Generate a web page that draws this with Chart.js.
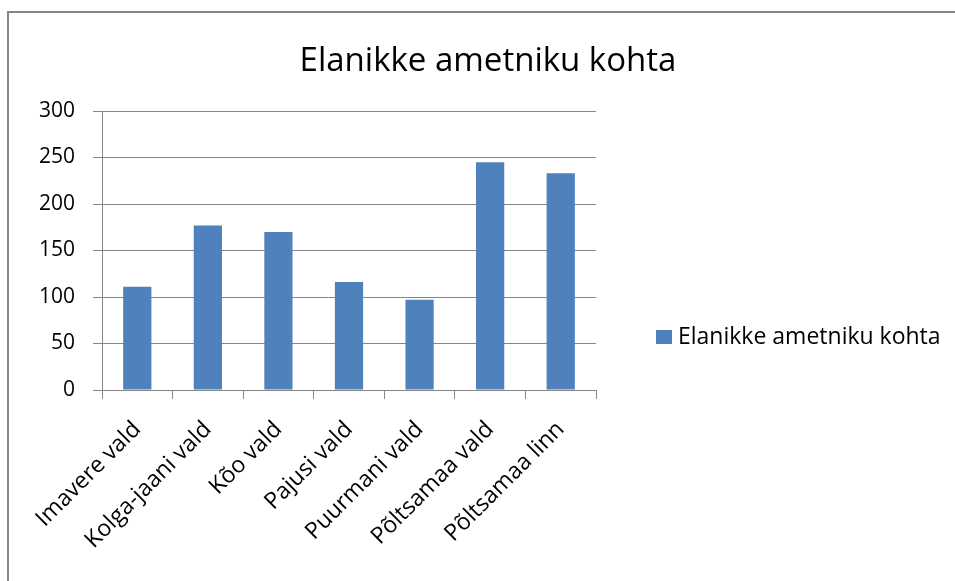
<!DOCTYPE html>
<html>
<head>
<meta charset="utf-8">
<script src="https://cdn.jsdelivr.net/npm/chart.js"></script>
<style>
  html, body { margin: 0; padding: 0; background: #fff; }
  #wrap { position: relative; width: 955px; height: 581px; overflow: hidden; }
  #frame { position: absolute; left: 7px; top: 11px; width: 1000px; height: 700px;
           border-left: 2px solid #868686; border-top: 2px solid #868686; }
  #myChart { position: absolute; left: 0; top: 0; }
  #title { position: absolute; left: 0; width: 976px; top: 36px; text-align: center;
           font-family: "Open Sans", sans-serif; font-size: 33px; color: #000; }
  #legend { position: absolute; left: 656px; top: 319px; font-family: "Open Sans", sans-serif;
            font-size: 23px; color: #000; white-space: nowrap; }
  #legend span.box { display: inline-block; width: 16px; height: 14px; background: #4F81BD;
                     margin-right: 6px; vertical-align: 0px; }
</style>
</head>
<body>
<div id="wrap">
  <div id="frame"></div>
  <canvas id="myChart" width="955" height="581"></canvas>
  <div id="title"></div>
  <div id="legend"><span class="box"></span><span id="legendText"></span></div>
</div>

<script>
  // data
  const chartTitle = 'Elanikke ametniku kohta'
  const seriesName = 'Elanikke ametniku kohta'
  const categories = ['Imavere vald', 'Kolga-jaani vald', 'Kõo vald', 'Pajusi vald',
                      'Puurmani vald', 'Põltsamaa vald', 'Põltsamaa linn']
  const values = [111, 177, 170, 116, 97, 245, 233]
  const yTicks = [0, 50, 100, 150, 200, 250, 300]

  const gridGray = '#868686'
  const fontName = '"Open Sans", sans-serif'

  document.getElementById('title').textContent = chartTitle
  document.getElementById('legendText').textContent = seriesName

  const ctx = document.getElementById('myChart');

  new Chart(ctx, {
    type: 'bar',
    data: {
      labels: categories,
      datasets: [{
        label: seriesName,
        data: values,
        backgroundColor: '#4F81BD',
        barPercentage: 0.4,
        categoryPercentage: 1
      }]
    },
    options: {
      responsive: false,
      animation: false,
      layout: { padding: { left: 0, right: 359, top: 111, bottom: 0 } },
      plugins: {
        legend: { display: false },
        tooltip: { enabled: false },
        title: { display: false }
      },
      scales: {
        y: {
          min: yTicks[0],
          max: yTicks[yTicks.length - 1],
          afterBuildTicks: (scale) => { scale.ticks = yTicks.map(v => ({ value: v })) },
          afterFit: (scale) => { scale.width = 102 },
          grid: { color: gridGray, tickLength: 9, lineWidth: 1 },
          border: { color: gridGray },
          ticks: { color: '#000', padding: 18, font: { family: fontName, size: 21 } }
        },
        x: {
          afterFit: (scale) => { scale.height = 191 },
          grid: { color: gridGray, drawOnChartArea: false, tickLength: 9, offset: true },
          border: { color: gridGray },
          ticks: { color: '#000', padding: 17, minRotation: 45, maxRotation: 45,
                   font: { family: fontName, size: 23 } }
        }
      }
    }
  });
</script>
</body>
</html>
